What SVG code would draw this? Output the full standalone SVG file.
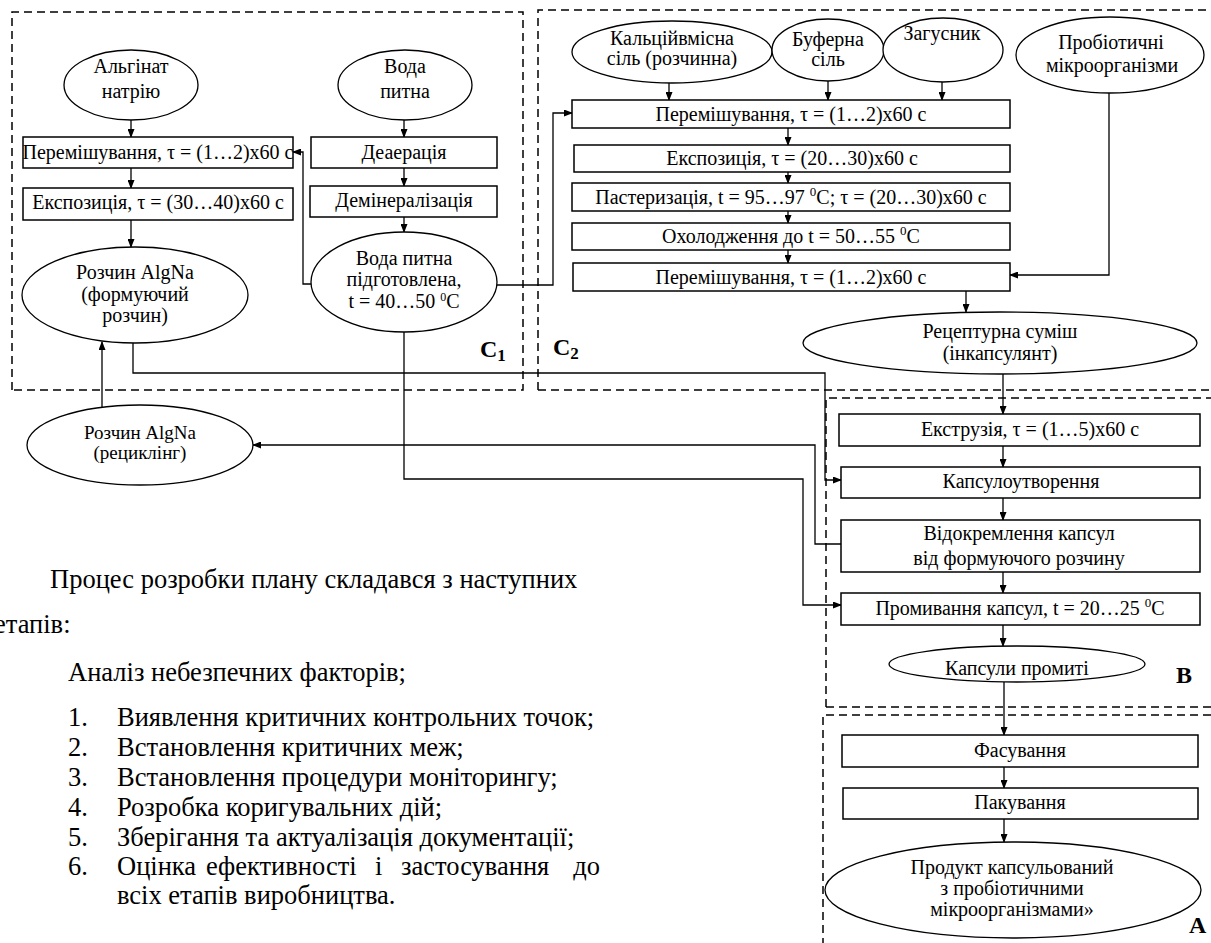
<svg xmlns="http://www.w3.org/2000/svg" width="1211" height="943" viewBox="0 0 1211 943">
<style>
text{font-family:"Liberation Serif","Times New Roman",serif;fill:#000}
.t{font-size:20px;text-anchor:middle}
.s{font-size:19px;text-anchor:middle}
.m{font-size:26.5px}
.lbl{font-size:24px;font-weight:bold}
.box{fill:#fff;stroke:#000;stroke-width:1.5}
.ell{fill:#fff;stroke:#000;stroke-width:1.3}
.dash{fill:none;stroke:#000;stroke-width:1.5;stroke-dasharray:8 5}
.a{fill:none;stroke:#000;stroke-width:1.3;marker-end:url(#ah)}
</style>
<defs>
<marker id="ah" markerWidth="9" markerHeight="7" refX="8" refY="3.5" orient="auto" markerUnits="userSpaceOnUse">
<path d="M0,0 L9,3.5 L0,7 z" fill="#000"/>
</marker>
</defs>
<rect width="1211" height="943" fill="#fff"/>

<g id="zones">
<path class="dash" d="M12,390 V12 H523 V390 Z"/>
<path class="dash" d="M538,390 V10 H1215 M538,390 H1215"/>
<path class="dash" d="M826,707 V398 H1215 M826,707 H1215"/>
<path class="dash" d="M823,946 V715 H1215"/>
<text class="lbl" x="480" y="357">C<tspan font-size="17" dy="4">1</tspan></text>
<text class="lbl" x="553" y="355">C<tspan font-size="17" dy="4">2</tspan></text>
<text class="lbl" x="1176" y="683">B</text>
<text class="lbl" x="1189" y="933">A</text>
</g>

<g id="connectors">
<path class="a" d="M131,120 V137"/>
<path class="a" d="M131,168 V188"/>
<path class="a" d="M131,220 V247"/>
<path class="a" d="M404,120 V137"/>
<path class="a" d="M404,168 V186"/>
<path class="a" d="M404,217 V232"/>
<path class="a" d="M311,284 H303 V152 H293"/>
<path class="a" d="M497,285 H553 V113 H572"/>
<path class="a" d="M404,332 V479 H803 V605 H841"/>
<path class="a" d="M133,343 V373 H825 V480 H841"/>
<path class="a" d="M841,544 H815 V445 H253"/>
<path class="a" d="M102,407 V342"/>
<path class="a" d="M669,83 V100"/>
<path class="a" d="M828,80 V100"/>
<path class="a" d="M942,82 V100"/>
<path class="a" d="M788,128 V145"/>
<path class="a" d="M788,172 V183"/>
<path class="a" d="M788,211 V223"/>
<path class="a" d="M788,250 V263"/>
<path class="a" d="M1109,93 V275 H1010"/>
<path class="a" d="M966,291 V312"/>
<path class="a" d="M1003,374 V414"/>
<path class="a" d="M1003,446 V467"/>
<path class="a" d="M1003,498 V520"/>
<path class="a" d="M1003,572 V593"/>
<path class="a" d="M1003,625 V646"/>
<path class="a" d="M1004,682 V735"/>
<path class="a" d="M1004,767 V788"/>
<path class="a" d="M1004,819 V842"/>
</g>

<g id="n-alginat"><ellipse class="ell" cx="131" cy="85" rx="67" ry="35"/><text class="t" x="131" y="73">Альгінат</text><text class="t" x="131" y="98">натрію</text></g>
<g id="n-voda"><ellipse class="ell" cx="405" cy="85" rx="67" ry="35"/><text class="t" x="405" y="73">Вода</text><text class="t" x="405" y="98">питна</text></g>
<g id="n-mix1"><rect class="box" x="23" y="137" width="270" height="31"/><text class="t" x="158" y="159">Перемішування, τ = (1…2)x60 с</text></g>
<g id="n-deaer"><rect class="box" x="311" y="137" width="186" height="31"/><text class="t" x="404" y="159">Деаерація</text></g>
<g id="n-exp1"><rect class="box" x="23" y="188" width="270" height="32"/><text class="t" x="158" y="209">Експозиція, τ = (30…40)x60 с</text></g>
<g id="n-demin"><rect class="box" x="310" y="186" width="187" height="31"/><text class="t" x="404" y="207">Демінералізація</text></g>
<g id="n-algna"><ellipse class="ell" cx="135" cy="295" rx="113" ry="48"/><text class="t" x="135" y="279">Розчин AlgNa</text><text class="t" x="135" y="301">(формуючий</text><text class="t" x="135" y="322">розчин)</text></g>
<g id="n-voda2"><ellipse class="ell" cx="404" cy="282" rx="93" ry="50"/><text class="t" x="404" y="265">Вода питна</text><text class="t" x="404" y="286">підготовлена,</text><text class="t" x="404" y="308">t = 40…50 <tspan font-size="12" dy="-7">0</tspan><tspan dy="7">C</tspan></text></g>

<g id="n-ca"><ellipse class="ell" cx="672" cy="52" rx="100" ry="31"/><text class="t" x="672" y="45">Кальційвмісна</text><text class="t" x="672" y="65">сіль (розчинна)</text></g>
<g id="n-buf"><ellipse class="ell" cx="828" cy="50" rx="56" ry="31"/><text class="t" x="828" y="46">Буферна</text><text class="t" x="828" y="66">сіль</text></g>
<g id="n-zag"><ellipse class="ell" cx="943" cy="50" rx="60" ry="32"/><text class="t" x="942" y="40">Загусник</text></g>
<g id="n-prob"><ellipse class="ell" cx="1110" cy="55" rx="94" ry="38"/><text class="t" x="1111" y="49">Пробіотичні</text><text class="t" x="1112" y="72">мікроорганізми</text></g>
<g id="n-mix2"><rect class="box" x="572" y="100" width="438" height="28"/><text class="t" x="791" y="121">Перемішування, τ = (1…2)x60 с</text></g>
<g id="n-exp2"><rect class="box" x="574" y="145" width="436" height="27"/><text class="t" x="792" y="165">Експозиція, τ = (20…30)x60 с</text></g>
<g id="n-past"><rect class="box" x="572" y="183" width="438" height="28"/><text class="t" x="791" y="204">Пастеризація, t = 95…97 <tspan font-size="13" dy="-8">0</tspan><tspan dy="8">C; τ = (20…30)x60 с</tspan></text></g>
<g id="n-cool"><rect class="box" x="572" y="223" width="438" height="27"/><text class="t" x="791" y="243">Охолодження до t = 50…55 <tspan font-size="13" dy="-8">0</tspan><tspan dy="8">C</tspan></text></g>
<g id="n-mix3"><rect class="box" x="573" y="263" width="437" height="28"/><text class="t" x="791" y="284">Перемішування, τ = (1…2)x60 с</text></g>
<g id="n-recept"><ellipse class="ell" cx="1000" cy="343" rx="197" ry="31"/><text class="t" x="1000" y="338">Рецептурна суміш</text><text class="t" x="1000" y="360">(інкапсулянт)</text></g>

<g id="n-recycle"><ellipse class="ell" cx="140" cy="445" rx="113" ry="40"/><text class="s" x="140" y="439">Розчин AlgNa</text><text class="s" x="140" y="459">(рециклінг)</text></g>

<g id="n-extr"><rect class="box" x="839" y="414" width="361" height="32"/><text class="t" x="1030" y="436">Екструзія, τ = (1…5)x60 с</text></g>
<g id="n-caps"><rect class="box" x="841" y="467" width="359" height="31"/><text class="t" x="1021" y="488">Капсулоутворення</text></g>
<g id="n-sep"><rect class="box" x="841" y="520" width="359" height="52"/><text class="t" x="1019" y="540">Відокремлення капсул</text><text class="t" x="1019" y="565">від формуючого розчину</text></g>
<g id="n-wash"><rect class="box" x="841" y="593" width="359" height="32"/><text class="t" x="1020" y="615">Промивання капсул, t = 20…25 <tspan font-size="13" dy="-8">0</tspan><tspan dy="8">C</tspan></text></g>
<g id="n-washed"><ellipse class="ell" cx="1017" cy="664" rx="128" ry="18"/><text class="t" x="1017" y="675">Капсули промиті</text></g>
<g id="n-fas"><rect class="box" x="842" y="735" width="356" height="32"/><text class="t" x="1020" y="757">Фасування</text></g>
<g id="n-pack"><rect class="box" x="843" y="788" width="355" height="31"/><text class="t" x="1020" y="809">Пакування</text></g>
<g id="n-prod"><ellipse class="ell" cx="1013" cy="890" rx="188" ry="48"/><text class="t" x="1012" y="874">Продукт капсульований</text><text class="t" x="1012" y="895">з пробіотичними</text><text class="t" x="1012" y="916">мікроорганізмами»</text></g>

<g id="body-text">
<text class="m" x="50" y="588">Процес розробки плану складався з наступних</text>
<text class="m" x="-6" y="633">етапів:</text>
<text class="m" x="68" y="681">Аналіз небезпечних факторів;</text>
<text class="m" x="68" y="726">1.</text><text class="m" x="117" y="726">Виявлення критичних контрольних точок;</text>
<text class="m" x="68" y="756">2.</text><text class="m" x="117" y="756">Встановлення критичних меж;</text>
<text class="m" x="68" y="786">3.</text><text class="m" x="117" y="786">Встановлення процедури моніторингу;</text>
<text class="m" x="68" y="816">4.</text><text class="m" x="117" y="816">Розробка коригувальних дій;</text>
<text class="m" x="68" y="846">5.</text><text class="m" x="117" y="846">Зберігання та актуалізація документації;</text>
<text class="m" x="68" y="875">6.</text><text class="m" x="117" y="875">Оцінка</text><text class="m" x="206" y="875">ефективності</text><text class="m" x="375" y="875">і</text><text class="m" x="401" y="875">застосування</text><text class="m" x="600" y="875" text-anchor="end">до</text>
<text class="m" x="117" y="904">всіх етапів виробництва.</text>
</g>
</svg>
